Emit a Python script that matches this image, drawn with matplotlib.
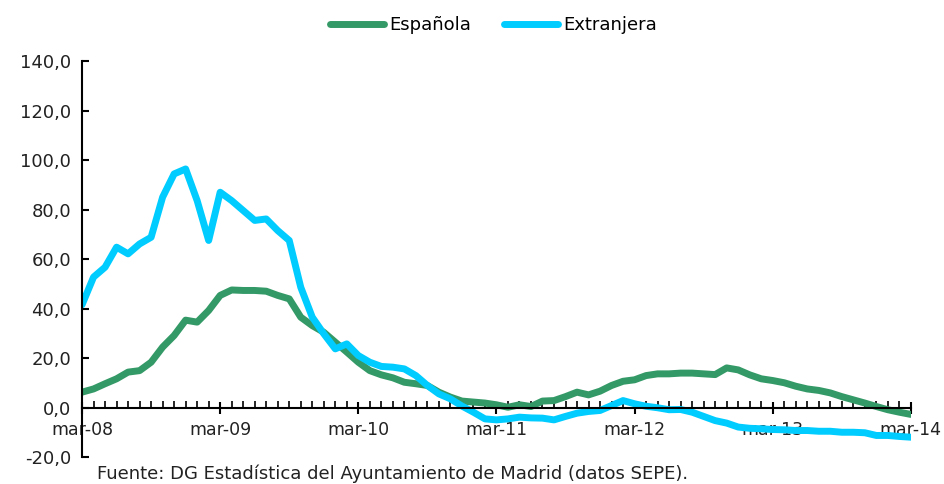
import matplotlib
matplotlib.use("Agg")
import matplotlib.pyplot as plt
from matplotlib.ticker import FuncFormatter, MultipleLocator

# variacion interanual del paro registrado, mar-08 .. mar-14 (mensual)
espanola = [6.2, 7.5, 9.6, 11.6, 14.3, 14.9, 18.3, 24.4, 29.1, 35.3, 34.5, 39.2,
            45.3, 47.5, 47.3, 47.3, 47.0, 45.3, 43.9, 36.5, 33.1, 30.4, 26.4, 22.4,
            18.3, 14.9, 13.2, 12.0, 10.2, 9.6, 8.9, 6.2, 4.2, 2.6, 2.2, 1.8,
            1.1, 0.1, 1.1, 0.4, 2.6, 2.8, 4.4, 6.2, 5.1, 6.6, 8.9, 10.6,
            11.2, 12.9, 13.6, 13.6, 13.9, 13.9, 13.6, 13.3, 16.0, 15.2, 13.2, 11.6,
            10.9, 10.0, 8.6, 7.5, 6.9, 5.9, 4.4, 3.1, 1.8, 0.4, -0.9, -1.9, -2.8]
extranjera = [41.5, 52.7, 56.7, 64.8, 62.1, 66.1, 68.8, 85.0, 94.4, 96.4, 83.6, 67.5,
              87.0, 83.6, 79.6, 75.6, 76.2, 71.5, 67.5, 48.6, 36.5, 29.8, 23.7, 25.7,
              21.0, 18.3, 16.6, 16.3, 15.6, 12.9, 8.9, 5.5, 3.5, 0.6, -1.9, -4.6,
              -5.0, -4.6, -3.9, -4.2, -4.3, -5.0, -3.6, -2.3, -1.6, -1.2, 0.8, 2.8,
              1.5, 0.5, -0.1, -0.9, -0.8, -1.9, -3.6, -5.3, -6.3, -7.9, -8.4, -8.6,
              -8.9, -9.0, -9.3, -9.3, -9.6, -9.6, -10.0, -10.0, -10.2, -11.3, -11.3, -11.7, -12.0]
year_labels = ["mar-08", "mar-09", "mar-10", "mar-11", "mar-12", "mar-13", "mar-14"]

months = list(range(len(espanola)))

fig = plt.figure(figsize=(9.44, 4.84), dpi=100)
ax = fig.add_axes([0.0869, 0.0558, 0.878, 0.818])

ax.plot(months, espanola, color="#339966", lw=5, label="Española",
        solid_capstyle="round", solid_joinstyle="round")
ax.plot(months, extranjera, color="#00CCFF", lw=5, label="Extranjera",
        solid_capstyle="round", solid_joinstyle="round")

ax.set_xlim(0, 72)
ax.set_ylim(-20, 140)
ax.yaxis.set_major_locator(MultipleLocator(20))
ax.yaxis.set_major_formatter(FuncFormatter(lambda v, p: f"{v:.1f}".replace(".", ",")))

ax.set_xticks(range(0, 73, 12))
ax.set_xticklabels(year_labels)
ax.set_xticks(range(0, 73), minor=True)

for s in ["top", "right"]:
    ax.spines[s].set_visible(False)
ax.spines["bottom"].set_position(("data", 0))
ax.spines["bottom"].set_linewidth(1.5)
ax.spines["left"].set_linewidth(1.5)

ax.tick_params(axis="x", which="major", direction="inout", length=9, width=1.5,
               labelsize=12.5, pad=5, colors="black", labelcolor="#222222")
ax.tick_params(axis="x", which="minor", direction="in", length=5, width=1.2)
ax.tick_params(axis="y", direction="in", length=5, width=1.5, labelsize=13, pad=8,
               labelcolor="#222222")

fig.legend(loc="upper center", bbox_to_anchor=(0.523, 1.0), ncol=2, frameon=False,
           fontsize=13, handlelength=3.0, columnspacing=1.8, handletextpad=0.3)

fig.text(0.103, 0.002, "Fuente: DG Estadística del Ayuntamiento de Madrid (datos SEPE).",
         fontsize=13, color="#222222", va="bottom")

fig.savefig("out.png", dpi=100)
